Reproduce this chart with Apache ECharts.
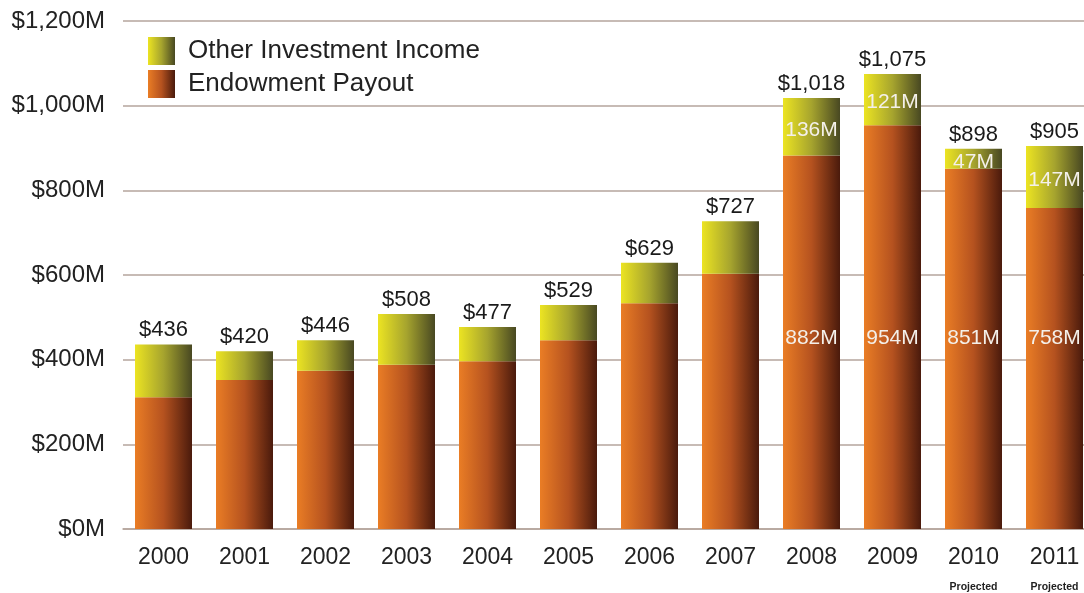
<!DOCTYPE html>
<html>
<head>
<meta charset="utf-8">
<script src="https://cdn.jsdelivr.net/npm/echarts@6/dist/echarts.min.js"></script>
<style>
  html, body { margin: 0; padding: 0; background: #fff; }
  #chart { width: 1084px; height: 593px; }
</style>
</head>
<body>
<div id="chart"></div>
<script>
const years = ["2000", "2001", "2002", "2003", "2004", "2005", "2006", "2007", "2008", "2009", "2010", "2011"];
const projected = ["", "", "", "", "", "", "", "", "", "", "Projected", "Projected"];
const endowmentPayout = [311, 352, 374, 388, 396, 446, 533, 603, 882, 954, 851, 758];
const otherIncome = [125, 68, 72, 120, 81, 83, 96, 124, 136, 121, 47, 147];
const totals = [436, 420, 446, 508, 477, 529, 629, 727, 1018, 1075, 898, 905];
// only the large bars carry the inner M labels
const showInner = [false, false, false, false, false, false, false, false, true, true, true, true];
const yTicks = [0, 200, 400, 600, 800, 1000, 1200];

const font = "'Liberation Sans', Arial, sans-serif";

const grad = (stops) => ({
  type: "linear", x: 0, y: 0, x2: 1, y2: 0,
  colorStops: stops.map((c, i) => ({ offset: i / (stops.length - 1), color: c })),
});
const orangeGrad = grad(["#ea7d25", "#b5521f", "#4a1a0c"]);
const yellowGrad = grad(["#ece422", "#a6a42e", "#484822"]);

const chart = echarts.init(document.getElementById("chart"));
chart.setOption({
  animation: false,
  textStyle: { fontFamily: font },
  legend: {
    orient: "vertical",
    left: 143,
    top: 32,
    icon: "rect",
    itemWidth: 27,
    itemHeight: 28,
    itemGap: 5,
    textStyle: { fontSize: 26, color: "#222", fontFamily: font, padding: [0, 0, 0, 8] },
    data: ["Other Investment Income", "Endowment Payout"],
  },
  grid: { left: 123, width: 972, top: 21, bottom: 64, outerBoundsMode: "none" },
  xAxis: {
    type: "category",
    data: years,
    axisTick: { show: false },
    axisLine: { lineStyle: { color: "#b5a59c", width: 1.5 } },
    axisLabel: {
      interval: 0,
      margin: 16,
      lineHeight: 26,
      formatter: (v, i) => projected[i] ? `{y|${v}}\n{p|${projected[i]}}` : `{y|${v}}`,
      rich: {
        y: { fontSize: 23, color: "#222", fontFamily: font },
        p: { fontSize: 10.5, color: "#222", fontFamily: font, fontWeight: "bold", lineHeight: 32 },
      },
    },
  },
  yAxis: {
    type: "value",
    min: 0,
    max: 1200,
    interval: 200,
    axisLine: { show: false },
    axisTick: { show: false },
    splitLine: { lineStyle: { color: "#b5a59c", width: 1.5 } },
    axisLabel: {
      margin: 18,
      fontSize: 24,
      color: "#222",
      fontFamily: font,
      formatter: (v) => yTicks.includes(v) ? "$" + v.toLocaleString("en-US") + "M" : "",
    },
  },
  series: [
    {
      name: "Endowment Payout",
      type: "bar",
      stack: "total",
      barWidth: 57,
      data: endowmentPayout,
      itemStyle: { color: orangeGrad },
      label: {
        show: true,
        position: "insideBottom",
        distance: 180,
        fontSize: 21,
        color: "#f4f0ea",
        fontFamily: font,
        formatter: (p) => showInner[p.dataIndex] ? p.value + "M" : "",
      },
    },
    {
      name: "Other Investment Income",
      type: "bar",
      stack: "total",
      barWidth: 57,
      data: otherIncome,
      itemStyle: { color: yellowGrad },
      label: {
        show: true,
        position: "inside",
        offset: [0, 3],
        fontSize: 21,
        color: "#f4f0ea",
        fontFamily: font,
        formatter: (p) => showInner[p.dataIndex] ? p.value + "M" : "",
      },
    },
    {
      name: "Total",
      type: "bar",
      stack: "total",
      barWidth: 57,
      data: totals.map(() => 0),
      itemStyle: { color: "transparent" },
      tooltip: { show: false },
      label: {
        show: true,
        position: "top",
        distance: 3,
        fontSize: 22,
        color: "#1a1a1a",
        fontFamily: font,
        formatter: (p) => "$" + totals[p.dataIndex].toLocaleString("en-US"),
      },
    },
  ],
});
</script>
</body>
</html>
